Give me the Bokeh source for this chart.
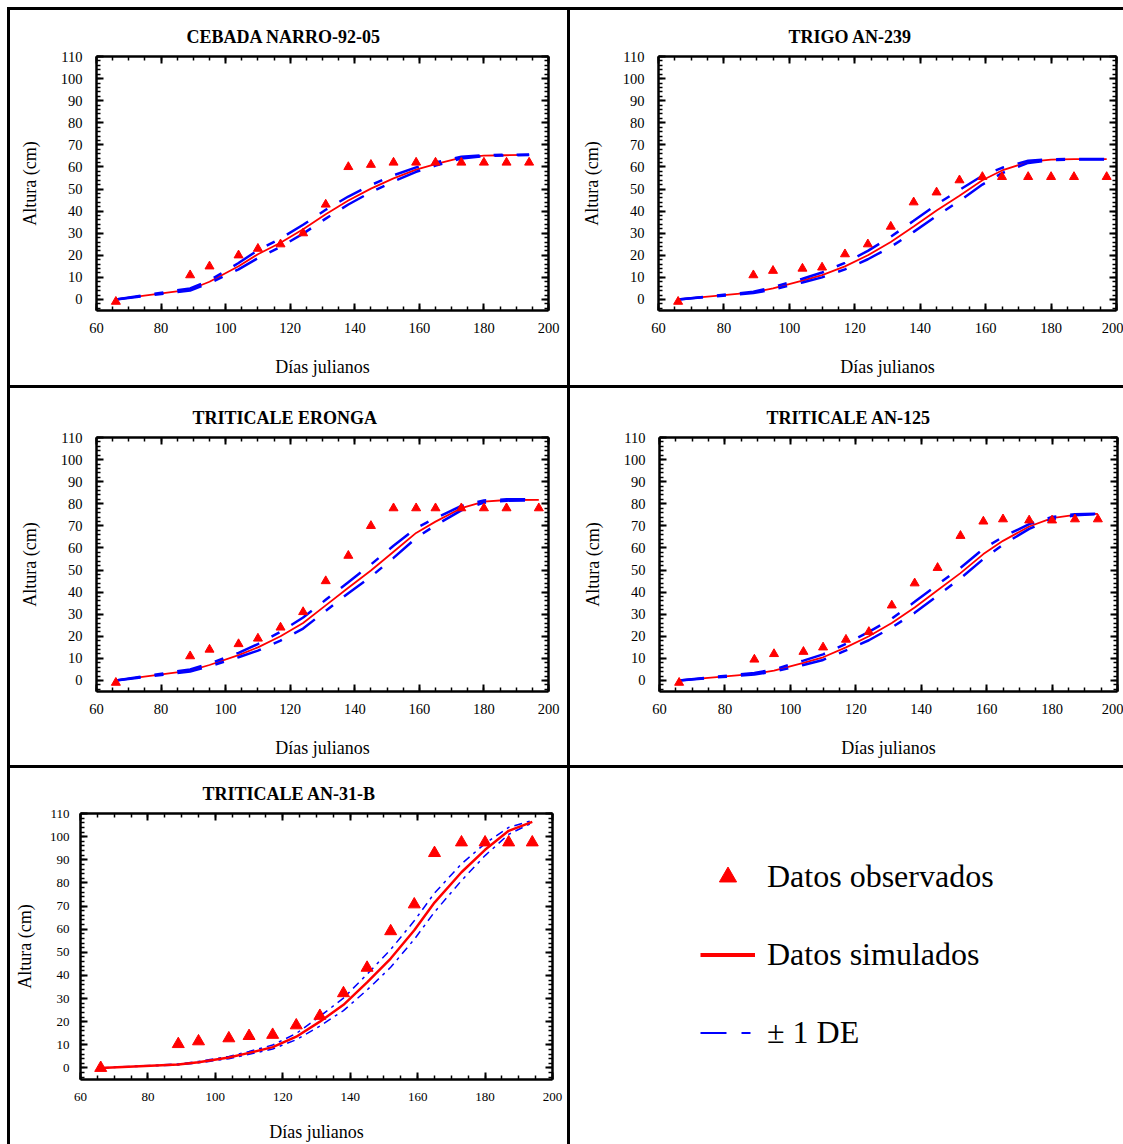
from bokeh.plotting import figure
from bokeh.layouts import column, row
from bokeh.models import Range1d, LinearAxis, SingleIntervalTicker, Legend, LegendItem
from bokeh.embed import file_html
from bokeh.resources import INLINE

SERIF = "Liberation Serif"
RED = "#ff0000"
BLUE = "#0000ff"

# Julian days of each sampling date
days_a = [66, 89, 95, 104, 110, 117, 124, 131, 138, 145, 152, 159, 165, 173, 180, 187, 194]
days_b = [66, 89, 95, 104, 110, 117, 124, 131, 138, 145, 152, 159, 165, 173, 180, 187, 197]

# CEBADA NARRO-92-05: plant height (cm)
cebada_obs = [-1, 11, 15, 20, 23, 25, 30, 43, 60, 61, 62, 62, 62, 62, 62, 62, 62]
cebada_sim = [0, 4.5, 8, 15, 20.5, 25.7, 31.8, 38.6, 44.8, 50.2, 54.8, 58.8, 61.3, 64.2, 65.1, 65.3, 65.5]
cebada_hi = [0, 5, 8.6, 16.5, 22.3, 27.6, 33.8, 40.6, 46.6, 51.8, 56.2, 59.8, 62, 64.6, 65.3, 65.5, 65.6]
cebada_lo = [0, 4, 7.4, 13.6, 18.7, 23.8, 29.8, 36.6, 43, 48.6, 53.4, 57.8, 60.6, 63.8, 64.9, 65.2, 65.4]

# TRIGO AN-239
trigo_obs = [-1, 11, 13, 14, 14.5, 20.5, 25, 33, 44, 48.5, 54, 55.5, 55.5, 55.5, 55.5, 55.5, 55.5]
trigo_sim = [0, 3.2, 5, 8.5, 11, 15, 20, 26, 33, 40.3, 47, 54, 58.4, 62.3, 63.3, 63.5, 63.5]
trigo_hi = [0, 3.5, 5.6, 9.4, 12.2, 16.6, 22, 28.4, 35.6, 43, 49.6, 56, 59.6, 62.8, 63.5, 63.6, 63.6]
trigo_lo = [0, 2.9, 4.5, 7.7, 10, 13.6, 18.2, 23.8, 30.6, 37.8, 44.6, 52, 57.2, 61.8, 63.1, 63.4, 63.4]

# TRITICALE ERONGA
eronga_obs = [-1, 11, 14, 16.5, 19, 24, 31, 45, 56.5, 70, 78, 78, 78, 78, 78, 78, 78]
eronga_sim = [0, 4.5, 7, 11.5, 15, 20, 26, 34, 42, 49.8, 58.3, 66.8, 71.9, 78, 81, 81.7, 81.8]
eronga_hi = [0, 5, 7.6, 12.5, 16.5, 22, 28.5, 36.5, 44.5, 52.5, 61, 69, 73.5, 79, 81.5, 82, 82]
eronga_lo = [0, 4, 6.4, 10.5, 13.5, 18, 23.5, 31.5, 39.5, 47, 55.5, 64.5, 70.3, 77, 80.5, 81.4, 81.6]

# TRITICALE AN-125
an125_obs = [-1, 9.5, 12, 13, 15, 18.5, 22, 34, 44, 51, 65.5, 72, 73, 72.5, 72.5, 73, 73]
an125_sim = [0, 3, 4.5, 8, 10.5, 15, 20, 26, 33, 40.8, 48.6, 57.2, 63.2, 69.7, 73.5, 75, 75.4]
an125_hi = [0, 3.4, 5, 9, 11.8, 16.6, 22, 28, 35.6, 43.4, 51, 59.6, 65, 70.8, 74, 75.3, 75.5]
an125_lo = [0, 2.7, 4, 7, 9.3, 13.6, 18.2, 24, 30.6, 38.4, 46.2, 55, 61.5, 68.6, 73, 74.8, 75.3]

# TRITICALE AN-31-B
an31b_obs = [0, 10.3, 11.5, 12.8, 13.8, 14.3, 18.4, 22.5, 32.3, 43.3, 59.1, 70.7, 92.9, 97.5, 97.5, 97.5, 97.5]
an31b_sim = [0, 1.5, 2.5, 4.5, 6.5, 9, 13.5, 20, 27.3, 37, 47.3, 59.5, 71.5, 84.6, 94.3, 102.5, 106.4]
an31b_hi = [0, 1.7, 2.8, 5, 7.1, 9.9, 14.9, 22.3, 30.2, 40.5, 51.2, 63.6, 75.6, 88.2, 97, 104, 107]
an31b_lo = [0, 1.3, 2.2, 4, 5.9, 8.2, 12.2, 18.1, 24.8, 33.7, 43.5, 55.6, 67.4, 81, 91.8, 101, 106]

legend_labels = ["Datos observados", "Datos simulados", "\u00b1 1 DE"]

NAN = float("nan")
WHITE_BG = {"background-color": "white"}


def panel(title, days, obs, sim, hi, lo, w, h, borders, title_offset, big=False):
    left, right, top, bottom = borders
    p = figure(width=w, height=h, x_range=Range1d(60, 200), y_range=Range1d(-5, 110),
               output_backend="svg", toolbar_location=None,
               min_border_left=left, min_border_right=right,
               min_border_top=top, min_border_bottom=bottom,
               x_axis_label="D\u00edas julianos", y_axis_label="Altura (cm)")
    p.styles = WHITE_BG
    p.grid.visible = False
    p.outline_line_color = None
    p.border_fill_color = "white"

    xt = SingleIntervalTicker(interval=20, num_minor_ticks=4)
    yt = SingleIntervalTicker(interval=10, num_minor_ticks=5)
    p.xaxis.ticker = xt
    p.yaxis.ticker = yt
    # mirrored tick marks on the top and right edges of the frame
    p.add_layout(LinearAxis(ticker=xt), "above")
    p.add_layout(LinearAxis(ticker=yt), "right")

    tick_size = "13px" if big else "14.5px"
    for ax in list(p.xaxis) + list(p.yaxis):
        ax.axis_line_width = 2.5
        ax.axis_line_color = "black"
        ax.major_tick_in = 7
        ax.major_tick_out = 0
        ax.major_tick_line_width = 2
        ax.minor_tick_in = 4
        ax.minor_tick_out = 0
        ax.minor_tick_line_width = 1.5
        ax.major_label_text_font = SERIF
        ax.major_label_text_font_size = tick_size
        ax.major_label_text_color = "black"
        ax.axis_label_text_font = SERIF
        ax.axis_label_text_font_size = "18px"
        ax.axis_label_text_font_style = "normal"
        ax.axis_label_text_color = "black"

    for ax in (p.above[0], p.right[0]):
        ax.major_label_text_color = None
        ax.major_label_text_font_size = "1px"
        ax.major_label_standoff = 0

    yax = p.left[0]
    xax = p.below[0]
    if big:
        yax.major_label_standoff = 11
        yax.axis_label_standoff = 12
        xax.major_label_standoff = 13
        xax.axis_label_standoff = 18
    else:
        yax.major_label_standoff = 14
        yax.axis_label_standoff = 18
        xax.major_label_standoff = 12
        xax.axis_label_standoff = 21

    p.title.text = title
    p.title.align = "left"
    p.title.offset = title_offset
    p.title.standoff = 20
    p.title.text_font = SERIF
    p.title.text_font_size = "18px"
    p.title.text_font_style = "bold"
    p.title.text_color = "black"

    if big:
        p.line(days, hi, color=BLUE, line_width=1.5, line_dash="8 5 3 5")
        p.line(days, lo, color=BLUE, line_width=1.5, line_dash="8 5 3 5")
        p.line(days, sim, color=RED, line_width=2.5)
        p.scatter(days, obs, marker="triangle", size=12, color=RED)
    else:
        p.line(days, sim, color=RED, line_width=1.8)
        p.line(days, hi, color=BLUE, line_width=2.5, line_dash="25 14 9 14")
        p.line(days, lo, color=BLUE, line_width=2.5, line_dash="25 14 9 14")
        p.scatter(days, obs, marker="triangle", size=9, color=RED)
    return p


p1 = panel("CEBADA NARRO-92-05", days_a, cebada_obs, cebada_sim, cebada_hi, cebada_lo,
           557, 375, (86, 19, 46, 75), 90)
p2 = panel("TRIGO AN-239", days_b, trigo_obs, trigo_sim, trigo_hi, trigo_lo,
           553, 375, (88, 7, 46, 75), 130)
p3 = panel("TRITICALE ERONGA", days_b, eronga_obs, eronga_sim, eronga_hi, eronga_lo,
           557, 377, (86, 19, 49, 74), 96)
p4 = panel("TRITICALE AN-125", days_a, an125_obs, an125_sim, an125_hi, an125_lo,
           553, 377, (89, 6, 49, 74), 107)
p5 = panel("TRITICALE AN-31-B", days_a, an31b_obs, an31b_sim, an31b_hi, an31b_lo,
           557, 376, (70, 15, 45, 64), 122, big=True)

# Legend cell: placeholder renderers (a single undefined point) carry the legend styles
p6 = figure(width=553, height=376, x_range=Range1d(0, 1), y_range=Range1d(0, 1),
            x_axis_type=None, y_axis_type=None, title_location=None,
            output_backend="svg", toolbar_location=None, min_border=0,
            outline_line_color=None)
p6.styles = WHITE_BG
p6.grid.visible = False
p6.outline_line_alpha = 0
p6.outline_line_width = 0
p6.background_fill_color = "white"
p6.border_fill_color = "white"
r_obs = p6.scatter([NAN], [NAN], marker="triangle", size=17, color=RED)
r_sim = p6.line([NAN], [NAN], color=RED, line_width=4)
r_sd = p6.line([NAN], [NAN], color=BLUE, line_width=2, line_dash="26 15 9 15")
legend = Legend(items=[LegendItem(label=legend_labels[0], renderers=[r_obs]),
                       LegendItem(label=legend_labels[1], renderers=[r_sim]),
                       LegendItem(label=legend_labels[2], renderers=[r_sd])],
                location=(130, 25), glyph_width=55, glyph_height=43, label_height=43,
                spacing=35, padding=0, margin=0, label_standoff=12,
                label_text_font=SERIF, label_text_font_size="32px", label_text_color="black",
                border_line_color=None, background_fill_alpha=0)
p6.add_layout(legend, "center")

layout = column(row(p1, p2, spacing=3), row(p3, p4, spacing=3), row(p5, p6, spacing=3),
                spacing=3)
layout.margin = (7, 0, 0, 7)
layout.styles = {"background-color": "black", "padding": "3px 0 0 3px"}

open("out.html", "w").write(file_html(layout, INLINE))
